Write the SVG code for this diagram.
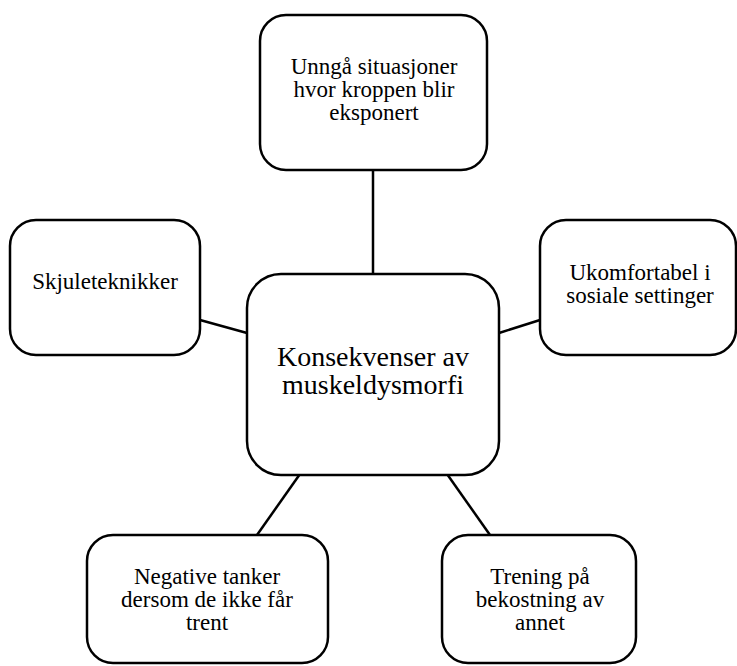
<svg xmlns="http://www.w3.org/2000/svg" width="737" height="666" viewBox="0 0 737 666">
<style>
.box{fill:#fff;stroke:#000;stroke-width:2.5}
.conn line{stroke:#000;stroke-width:2.5}
text{font-family:"Liberation Serif","Times New Roman",serif;fill:#000;text-anchor:middle}
.t{font-size:23px}
.c{font-size:28px}
</style>
<rect width="737" height="666" fill="#fff"/>
<g id="connectors" class="conn">
<line x1="373" y1="170" x2="373" y2="274"/>
<line x1="200" y1="320" x2="247" y2="333"/>
<line x1="540" y1="320" x2="499" y2="333"/>
<line x1="300" y1="474" x2="257" y2="535"/>
<line x1="447" y1="474" x2="490" y2="535"/>
</g>
<g id="top">
<rect class="box" x="260" y="15" width="227" height="155" rx="26"/>
<text class="t" x="374" y="74">Unngå situasjoner</text>
<text class="t" x="374" y="97">hvor kroppen blir</text>
<text class="t" x="374" y="120">eksponert</text>
</g>
<g id="left">
<rect class="box" x="10" y="220" width="190" height="135" rx="26"/>
<text class="t" x="105" y="289">Skjuleteknikker</text>
</g>
<g id="right">
<rect class="box" x="540" y="220" width="196" height="135" rx="26"/>
<text class="t" x="640" y="280">Ukomfortabel i</text>
<text class="t" x="640" y="303">sosiale settinger</text>
</g>
<g id="center">
<rect class="box" x="247" y="274" width="252" height="201" rx="34"/>
<text class="c" x="373" y="366">Konsekvenser av</text>
<text class="c" x="373" y="394">muskeldysmorfi</text>
</g>
<g id="bottomleft">
<rect class="box" x="87" y="535" width="241" height="128" rx="26"/>
<text class="t" x="207" y="584">Negative tanker</text>
<text class="t" x="207" y="607">dersom de ikke får</text>
<text class="t" x="207" y="630">trent</text>
</g>
<g id="bottomright">
<rect class="box" x="442" y="535" width="194" height="128" rx="26"/>
<text class="t" x="540" y="584">Trening på</text>
<text class="t" x="540" y="607">bekostning av</text>
<text class="t" x="540" y="630">annet</text>
</g>
</svg>
